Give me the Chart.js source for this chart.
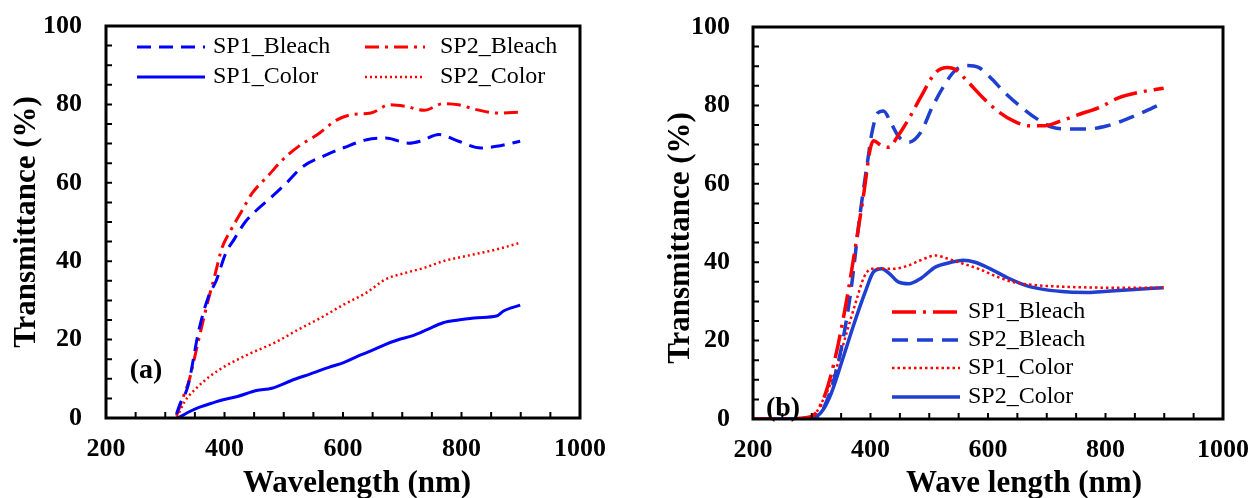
<!DOCTYPE html>
<html lang="en">
<head>
<meta charset="UTF-8">
<title>Transmittance spectra</title>
<script src="https://cdn.jsdelivr.net/npm/chart.js"></script>
<style>
  body { margin: 0; background: #fff; overflow: hidden; }
  .panel { position: absolute; top: 0; }
</style>
</head>
<body>
<div class="panel" style="left:0"><canvas id="chartA" width="626" height="520"></canvas></div>
<div class="panel" style="left:626px"><canvas id="chartB" width="626" height="520"></canvas></div>

<script>
// ---- panel (a) data: wavelength (nm) / transmittance (%) ----
const aSp1BleachX = [319, 325, 338, 357, 373, 386, 402, 416, 435, 454, 481, 505, 531, 570, 602, 640, 672, 711, 730, 762, 795, 833, 859, 899];
const aSp1BleachY = [1, 3.6, 8, 22.6, 31, 35, 42, 45.5, 50, 53, 56.6, 60, 64, 67, 69, 71, 71.4, 70.1, 70.6, 72.3, 70.6, 68.9, 69.3, 70.6];
const aSp2BleachX = [319, 329, 341, 354, 370, 383, 396, 409, 428, 447, 473, 499, 525, 557, 589, 615, 647, 679, 705, 737, 769, 795, 827, 859, 899];
const aSp2BleachY = [0.6, 4.8, 10, 18.4, 28.6, 36, 43.5, 47.5, 52.5, 57.4, 61.7, 66, 69.3, 72.3, 76, 77.4, 77.8, 79.9, 79.5, 78.5, 80.2, 79.9, 78.6, 77.8, 78];
const aSp1ColorX = [322, 338, 357, 383, 396, 422, 454, 480, 512, 544, 576, 602, 627, 647, 672, 692, 718, 743, 769, 795, 827, 859, 871, 899];
const aSp1ColorY = [0, 1.4, 2.7, 4, 4.6, 5.5, 7, 7.6, 9.5, 11.2, 12.9, 14.2, 15.9, 17.1, 18.8, 19.9, 21, 22.6, 24.3, 25, 25.6, 26, 27.3, 28.8];
const aSp2ColorX = [320, 332, 351, 377, 402, 441, 486, 525, 563, 602, 640, 672, 705, 737, 769, 807, 859, 899];
const aSp2ColorY = [0.2, 4, 7.4, 10.8, 13.3, 16.3, 19.3, 22.6, 25.6, 29, 32, 35.4, 37, 38.3, 40, 41.3, 43, 44.7];

// ---- panel (b) data ----
const bSp1BleachX = [200, 250, 299, 319, 339, 359, 376, 389, 399, 405, 419, 432, 445, 465, 485, 511, 531, 544, 564, 591, 617, 644, 670, 697, 723, 757, 790, 823, 856, 899];
const bSp1BleachY = [0, 0, 0.6, 4.8, 15, 30, 45.5, 58, 68.5, 71, 69.7, 69.3, 71.8, 76.5, 82, 88.4, 89.7, 89.2, 86.3, 82, 78.5, 76, 74.8, 74.8, 76, 77.8, 79.5, 82, 83.3, 84.4];
const bSp2BleachX = [200, 250, 309, 326, 346, 366, 382, 396, 402, 412, 422, 435, 448, 465, 485, 505, 525, 544, 564, 584, 604, 631, 657, 684, 710, 737, 770, 803, 836, 869, 899];
const bSp2BleachY = [0, 0, 0.6, 4.8, 15, 32, 52, 66.7, 72.7, 78, 78.6, 75.5, 72, 70.6, 73, 79.5, 85, 88.9, 90.2, 89.7, 87.1, 82.9, 79.5, 76.5, 74.4, 74, 74, 74.8, 76.5, 78.6, 80.7];
const bSp1ColorX = [200, 250, 286, 306, 319, 339, 359, 376, 389, 402, 419, 439, 465, 485, 511, 531, 558, 584, 617, 644, 684, 737, 803, 899];
const bSp1ColorY = [0, 0, 0.2, 1.4, 4.8, 11.6, 21.8, 30.3, 36.2, 38.3, 38.3, 38.3, 39.2, 40.5, 41.7, 40.9, 39.6, 38.3, 36.2, 34.9, 34.1, 33.7, 33.5, 33.5];
const bSp2ColorX = [200, 250, 306, 319, 333, 352, 372, 392, 405, 419, 432, 448, 465, 485, 511, 538, 558, 578, 604, 631, 664, 697, 737, 770, 803, 843, 899];
const bSp2ColorY = [0, 0, 0.6, 2.3, 6.5, 15, 24.3, 32.8, 37.5, 38.3, 37.1, 34.9, 34.5, 35.8, 38.8, 40, 40.5, 40, 38.3, 36.2, 34.1, 33, 32.4, 32.3, 32.6, 33, 33.5];

const xTicks = [200, 400, 600, 800, 1000];
const yTicks = [0, 20, 40, 60, 80, 100];

const SERIF = '"Liberation Serif", "Times New Roman", serif';
const RED = '#ff0000';
const BLUE_A = '#0000ff';
const BLUE_B = '#1f3fd0';

function toPoints(xs, ys) {
  return xs.map((x, i) => ({ x: x, y: ys[i] }));
}

function series(label, xs, ys, color, dash, width) {
  return {
    label: label,
    data: toPoints(xs, ys),
    borderColor: color,
    borderDash: dash,
    borderWidth: width,
    pointRadius: 0,
    cubicInterpolationMode: 'monotone',
    fill: false
  };
}

// frame, inward minor ticks, axis titles, in-plot legend and panel tag
function decor(p) {
  return {
    id: 'decor',
    afterDraw(chart) {
      const ctx = chart.ctx;
      const area = chart.chartArea;
      const xs = chart.scales.x, ys = chart.scales.y;
      ctx.save();
      ctx.strokeStyle = '#000';
      ctx.lineWidth = 2;
      ctx.setLineDash([]);
      ctx.beginPath();
      for (let v = 250; v < 1000; v += 50) {
        const px = xs.getPixelForValue(v);
        ctx.moveTo(px, area.bottom);
        ctx.lineTo(px, area.bottom - 6);
      }
      for (let v = 5; v < 100; v += 5) {
        const py = ys.getPixelForValue(v);
        ctx.moveTo(area.left, py);
        ctx.lineTo(area.left + 6, py);
      }
      ctx.stroke();
      ctx.lineWidth = 3;
      ctx.strokeRect(area.left, area.top, area.right - area.left, area.bottom - area.top);

      // axis titles
      ctx.fillStyle = '#000';
      ctx.font = 'bold 31px ' + SERIF;
      ctx.textAlign = 'center';
      ctx.textBaseline = 'middle';
      ctx.fillText(p.xTitle, p.xTitleX, p.xTitleY);
      ctx.save();
      ctx.translate(p.yTitleX, p.yTitleY);
      ctx.rotate(-Math.PI / 2);
      ctx.fillText('Transmittance (%)', 0, 0);
      ctx.restore();

      // legend
      ctx.font = '24px ' + SERIF;
      ctx.textAlign = 'left';
      p.legend.forEach(item => {
        const ds = chart.data.datasets[item.index];
        ctx.strokeStyle = ds.borderColor;
        ctx.lineWidth = ds.borderWidth;
        ctx.setLineDash(ds.borderDash || []);
        ctx.beginPath();
        ctx.moveTo(item.x0, item.y);
        ctx.lineTo(item.x1, item.y);
        ctx.stroke();
        ctx.fillStyle = '#000';
        ctx.fillText(ds.label, item.tx, item.y);
      });

      ctx.setLineDash([]);
      ctx.font = 'bold 28px ' + SERIF;
      ctx.textAlign = 'center';
      ctx.fillStyle = '#000';
      ctx.fillText(p.tag, p.tagX, p.tagY);
      ctx.restore();
    }
  };
}

function makeChart(id, datasets, p) {
  return new Chart(document.getElementById(id), {
    type: 'line',
    data: { datasets: datasets },
    options: {
      responsive: false,
      animation: false,
      devicePixelRatio: 1,
      layout: { padding: { left: 0, top: p.top, right: p.right, bottom: 0 } },
      plugins: { legend: { display: false }, tooltip: { enabled: false } },
      scales: {
        x: {
          type: 'linear',
          min: 200, max: 1000,
          afterBuildTicks: s => { s.ticks = xTicks.map(v => ({ value: v })); },
          // fixed axis box; labels may overhang the plot edges
          afterFit: s => { s.height = p.xHeight; s.paddingLeft = 0; s.paddingRight = 0; },
          grid: { display: false, drawTicks: false },
          border: { display: false },
          ticks: { color: '#000', padding: 16, maxRotation: 0, callback: v => String(v),
                   font: { family: SERIF, size: 26, weight: 'bold' } }
        },
        y: {
          min: 0, max: 100,
          afterBuildTicks: s => { s.ticks = yTicks.map(v => ({ value: v })); },
          afterFit: s => { s.width = p.yWidth; s.paddingTop = 0; s.paddingBottom = 0; },
          grid: { display: false, drawTicks: false },
          border: { display: false },
          ticks: { color: '#000', padding: p.yPad, callback: v => String(v),
                   font: { family: SERIF, size: 26, weight: 'bold' } }
        }
      }
    },
    plugins: [decor(p)]
  });
}

makeChart('chartA', [
  series('SP1_Bleach', aSp1BleachX, aSp1BleachY, BLUE_A, [14, 8], 3),
  series('SP2_Bleach', aSp2BleachX, aSp2BleachY, RED, [14, 6, 3, 6], 3),
  series('SP1_Color', aSp1ColorX, aSp1ColorY, BLUE_A, [], 3),
  series('SP2_Color', aSp2ColorX, aSp2ColorY, RED, [2, 3], 2.5)
], {
  top: 26, right: 46, xHeight: 102, yWidth: 106, yPad: 24,
  xTitle: 'Wavelength (nm)', xTitleX: 357, xTitleY: 484, yTitleX: 27, yTitleY: 222,
  legend: [
    { index: 0, x0: 137, x1: 205, tx: 213, y: 47 },
    { index: 1, x0: 365, x1: 425, tx: 440, y: 47 },
    { index: 2, x0: 137, x1: 205, tx: 213, y: 77 },
    { index: 3, x0: 365, x1: 425, tx: 440, y: 77 }
  ],
  tag: '(a)', tagX: 146, tagY: 371
});

makeChart('chartB', [
  series('SP1_Bleach', bSp1BleachX, bSp1BleachY, RED, [24, 7, 3, 7], 3.5),
  series('SP2_Bleach', bSp2BleachX, bSp2BleachY, BLUE_B, [16, 9], 3.5),
  series('SP1_Color', bSp1ColorX, bSp1ColorY, RED, [2.5, 3], 2.5),
  series('SP2_Color', bSp2ColorX, bSp2ColorY, BLUE_B, [], 3.5)
], {
  top: 27, right: 29, xHeight: 101, yWidth: 127, yPad: 23,
  xTitle: 'Wave length (nm)', xTitleX: 398, xTitleY: 484, yTitleX: 55, yTitleY: 238,
  legend: [
    { index: 0, x0: 266, x1: 334, tx: 342, y: 312 },
    { index: 1, x0: 266, x1: 334, tx: 342, y: 340 },
    { index: 2, x0: 266, x1: 334, tx: 342, y: 368 },
    { index: 3, x0: 266, x1: 334, tx: 342, y: 397 }
  ],
  tag: '(b)', tagX: 157, tagY: 409
});
</script>
</body>
</html>
